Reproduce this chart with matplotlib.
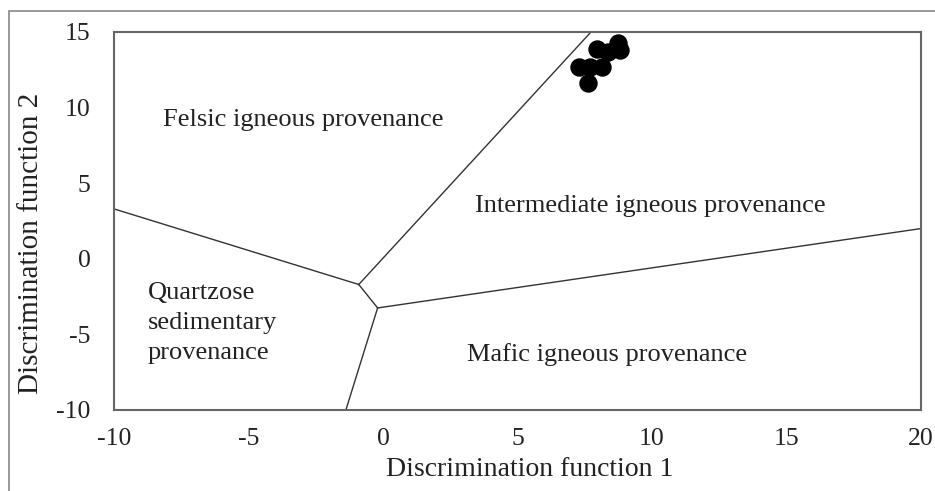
"""Discrimination function diagram for sandstone provenance."""

import matplotlib

matplotlib.use("Agg")
import matplotlib.pyplot as plt
from matplotlib.patches import Rectangle

plt.rcParams["font.family"] = ["Liberation Serif", "DejaVu Serif"]
plt.rcParams["axes.unicode_minus"] = False

# sample points (DF1, DF2)
df1 = [7.96, 8.36, 8.74, 8.81, 7.29, 7.70, 8.14, 7.62]
df2 = [13.88, 13.68, 14.27, 13.81, 12.69, 12.69, 12.69, 11.63]

# field boundaries, each a (xs, ys) polyline
boundaries = {
    "quartzose_felsic": ([-10, -0.9], [3.3, -1.7]),
    "felsic_intermediate": ([-0.9, 7.73], [-1.7, 15]),
    "junction": ([-0.9, -0.2], [-1.7, -3.25]),
    "intermediate_mafic": ([-0.2, 20], [-3.25, 2.0]),
    "quartzose_mafic": ([-0.2, -1.38], [-3.25, -10]),
}

# field labels: (text, x, y)
fields = [
    ("Felsic igneous provenance", -8.18, 9.18),
    ("Intermediate igneous provenance", 3.42, 3.49),
    ("Quartzose\nsedimentary\nprovenance", -8.74, -4.25),
    ("Mafic igneous provenance", 3.12, -6.36),
]

xticks = [-10, -5, 0, 5, 10, 15, 20]
yticks = [-10, -5, 0, 5, 10, 15]

fig = plt.figure(figsize=(9.35, 4.91), dpi=100)
ax = fig.add_axes([114 / 935, 1 - 410 / 491, 807 / 935, 378 / 491])

for xs, ys in boundaries.values():
    ax.plot(xs, ys, color="#333333", lw=1.0)

ax.scatter(df1, df2, s=150, color="black", zorder=3, clip_on=False)

for label, x, y in fields:
    ax.text(x, y, label, fontsize=19, ha="left", va="center",
            color="#222222", linespacing=1.45)

ax.set_xlim(-10, 20)
ax.set_ylim(-10, 15)
ax.set_xticks(xticks)
ax.set_yticks(yticks)
ax.tick_params(length=0, labelsize=18.5, colors="#222222")
ax.tick_params(axis="x", pad=13)
ax.tick_params(axis="y", pad=17)
for s in ax.spines.values():
    s.set_color("#666666")
    s.set_linewidth(1.5)

ax.set_xlabel("Discrimination function 1", fontsize=20, color="#222222")
ax.xaxis.set_label_coords(0.515, -0.125)
ax.set_ylabel("Discrimination function 2", fontsize=21, color="#222222")
ax.yaxis.set_label_coords(-0.087, 0.442)

# outer frame around the figure
fig.patches.append(Rectangle((9 / 935, -0.05), 1.0, 1 - 11 / 491 + 0.05,
                             transform=fig.transFigure, fill=False,
                             edgecolor="#888888", lw=1.2))

fig.savefig("out.png", dpi=100)
